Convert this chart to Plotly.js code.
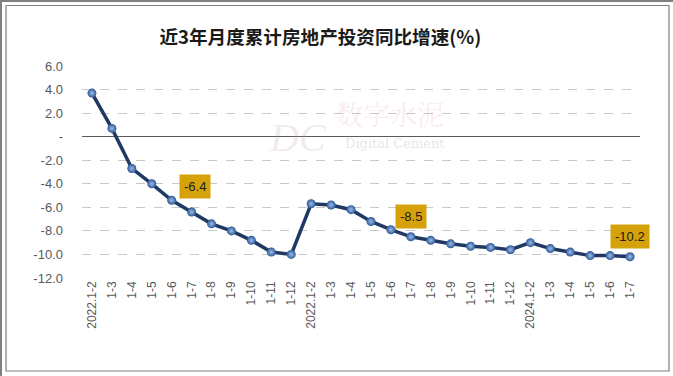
<!DOCTYPE html>
<html>
<head>
<meta charset="utf-8">
<script src="https://cdn.plot.ly/plotly-3.0.1.min.js"></script>
<style>html,body{margin:0;padding:0;background:#fff;}#chart{width:673px;height:376px;}</style>
</head>
<body>
<div id="chart"></div>
<script>
// ---- data ----
const categories = [
  "2022.1-2","1-3","1-4","1-5","1-6","1-7","1-8","1-9","1-10","1-11","1-12",
  "2022.1-2","1-3","1-4","1-5","1-6","1-7","1-8","1-9","1-10","1-11","1-12",
  "2024.1-2","1-3","1-4","1-5","1-6","1-7"
];
const growth = [
  3.7, 0.7, -2.7, -4.0, -5.4, -6.4, -7.4, -8.0, -8.8, -9.8, -10.0,
  -5.7, -5.8, -6.2, -7.2, -7.9, -8.5, -8.8, -9.1, -9.3, -9.4, -9.6,
  -9.0, -9.5, -9.8, -10.1, -10.1, -10.2
];
const labelledPoints = [5, 16, 27];
const yTickVals = [6, 4, 2, 0, -2, -4, -6, -8, -10, -12];
const yTickText = ["6.0", "4.0", "2.0", "-", "-2.0", "-4.0", "-6.0", "-8.0", "-10.0", "-12.0"];
const titleText = "近3年月度累计房地产投资同比增速(%)";

// ---- chart ----
const xIdx = categories.map((_, i) => i);
const trace = {
  x: xIdx, y: growth, type: "scatter", mode: "lines+markers",
  line: {color: "#1F3864", width: 3.5},
  marker: {size: 9, color: "#2D5896", gradient: {type: "radial", color: "#9DBDE8"}, line: {width: 0}},
  cliponaxis: false, hoverinfo: "none"
};

const shiftsY = [26, 20, 20];
const shiftsX = [3, 0, 0];
const annotations = labelledPoints.map((i, k) => ({
  x: i, y: growth[i], xref: "x", yref: "y", showarrow: false,
  text: growth[i].toFixed(1), yshift: shiftsY[k], xshift: shiftsX[k],
  bgcolor: "#D6A20C", borderpad: 4,
  font: {family: "Liberation Sans, Arial, sans-serif", size: 13, color: "#1a1a1a"}
}));

const L = 82, R = 33, T = 66, B = 98, W = 673, H = 376;
const pw = W - L - R, ph = H - T - B;
const px = v => (v - L) / pw;
const py = v => (H - B - v) / ph;

// watermark
annotations.push(
  {xref: "paper", yref: "paper", x: px(298), y: py(113), showarrow: false, text: "<i>DC</i>",
   font: {family: "Liberation Serif, serif", size: 40, color: "rgba(190,150,150,0.2)"}},
  {xref: "paper", yref: "paper", x: px(390), y: py(92), showarrow: false, text: "数字水泥",
   font: {family: "Noto Serif CJK SC, Noto Sans CJK SC, serif", size: 27, color: "rgba(220,130,140,0.17)"}},
  {xref: "paper", yref: "paper", x: px(395), y: py(134), showarrow: false, text: "Digital Cement",
   font: {family: "DejaVu Serif, serif", size: 13, color: "rgba(130,130,130,0.22)"}}
);

const shapes = [
  {type: "rect", xref: "paper", yref: "paper", x0: px(6), x1: px(669), y0: py(371), y1: py(5.5),
   line: {color: "#7F7F7F", width: 1.2}, fillcolor: "rgba(0,0,0,0)", layer: "below"},
  {type: "line", xref: "paper", yref: "paper", x0: px(1), x1: px(1), y0: py(376), y1: py(0),
   line: {color: "#808080", width: 2}},
  {type: "line", xref: "paper", yref: "paper", x0: px(0), x1: px(673), y0: py(1), y1: py(1),
   line: {color: "#808080", width: 2}}
];

const layout = {
  width: W, height: H,
  margin: {l: L, r: R, t: T, b: B, pad: 0},
  paper_bgcolor: "#fff", plot_bgcolor: "#fff",
  showlegend: false,
  title: {text: titleText, xref: "container", x: 0.476, xanchor: "center", yref: "container", y: 0.9, yanchor: "middle",
          font: {family: "Noto Sans CJK SC, sans-serif", size: 18.6, color: "#1a1a1a", weight: 700}},
  xaxis: {
    range: [-0.5, categories.length - 0.5],
    tickmode: "array", tickvals: xIdx, ticktext: categories, tickangle: -90,
    showgrid: false, zeroline: false, showline: false, ticks: "",
    tickfont: {family: "Liberation Sans, Arial, sans-serif", size: 12, color: "#595959"},
    fixedrange: true
  },
  yaxis: {
    range: [-12, 6],
    tickmode: "array", tickvals: yTickVals, ticktext: yTickText,
    showgrid: true, gridcolor: "#C8C8C8", griddash: "dash", gridwidth: 1,
    zeroline: true, zerolinecolor: "#5A5A5A", zerolinewidth: 1.5,
    showline: false, ticks: "", ticklabelstandoff: 18,
    tickfont: {family: "Liberation Sans, Arial, sans-serif", size: 13, color: "#595959"},
    fixedrange: true
  },
  annotations: annotations,
  shapes: shapes
};

Plotly.newPlot("chart", [trace], layout, {staticPlot: true, displayModeBar: false});
</script>
</body>
</html>
